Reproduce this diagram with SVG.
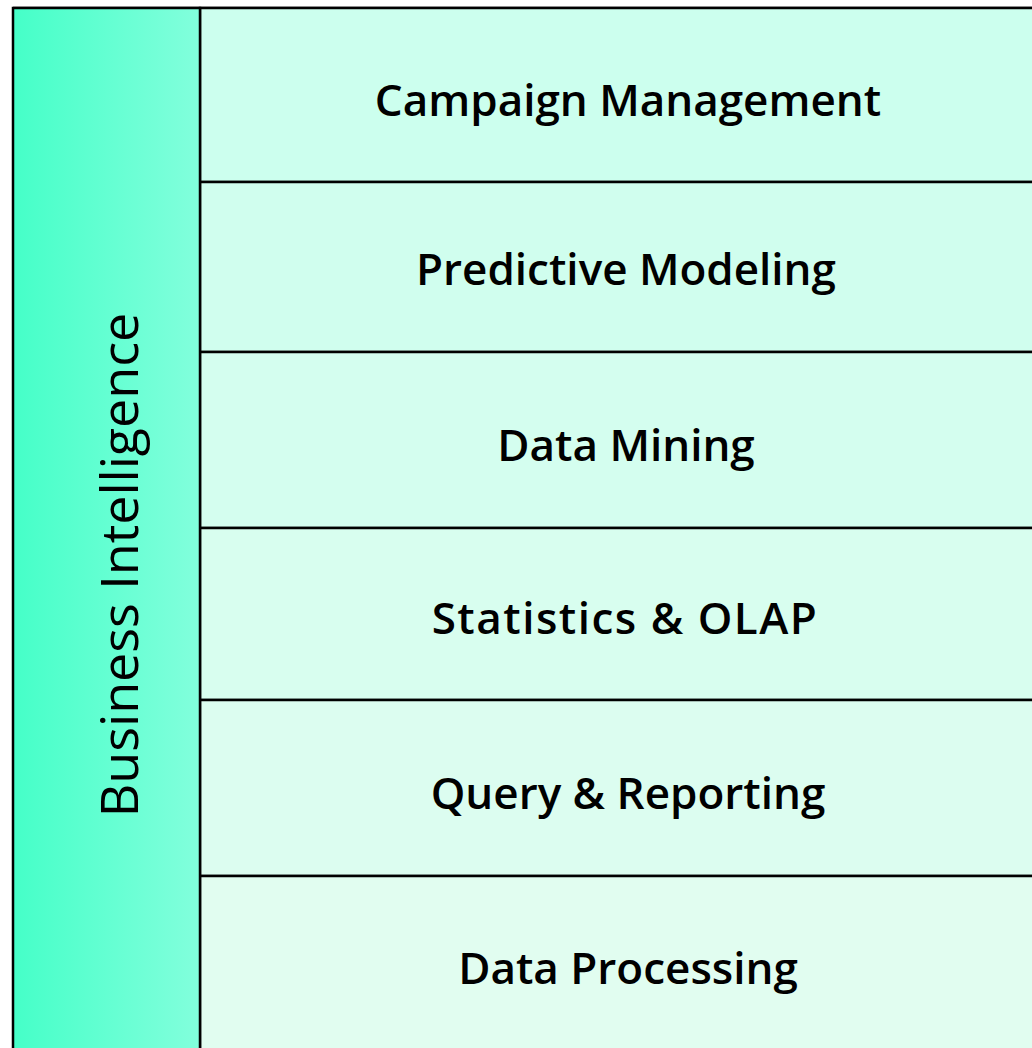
<svg xmlns="http://www.w3.org/2000/svg" width="1032" height="1048" viewBox="0 0 1032 1048">
<defs>
<linearGradient id="lg" x1="0" y1="0" x2="1" y2="0">
<stop offset="0" stop-color="#45FFC8"/>
<stop offset="1" stop-color="#82FFDC"/>
</linearGradient>
<style>
.row{stroke:#000;stroke-width:2.5}
.lbl{font-family:"Open Sans","Noto Sans",sans-serif;font-weight:600;font-size:44px;fill:#000;text-anchor:middle;dominant-baseline:central}
.side{font-family:"Open Sans","Noto Sans",sans-serif;font-weight:400;font-size:52px;fill:#000;text-anchor:middle;dominant-baseline:central}
</style>
</defs>
<rect width="1032" height="1048" fill="#fff"/>
<line x1="13" y1="6.5" x2="1032" y2="6.5" stroke="#bbb" stroke-width="1"/>
<g id="rows">
<g id="campaign"><rect class="row" x="200" y="8" width="840" height="174" fill="#CCFFEE"/><text class="lbl" x="628" y="99">Campaign Management</text></g>
<g id="predictive"><rect class="row" x="200" y="182" width="840" height="170" fill="#D0FEEE"/><text class="lbl" x="626" y="268">Predictive Modeling</text></g>
<g id="mining"><rect class="row" x="200" y="352" width="840" height="176" fill="#D4FEEF"/><text class="lbl" x="626" y="444">Data Mining</text></g>
<g id="stats"><rect class="row" x="200" y="528" width="840" height="172" fill="#D8FEEF"/><text class="lbl" x="625" y="617" letter-spacing="1.5">Statistics &amp; OLAP</text></g>
<g id="query"><rect class="row" x="200" y="700" width="840" height="176" fill="#DCFDF0"/><text class="lbl" x="628" y="792">Query &amp; Reporting</text></g>
<g id="processing"><rect class="row" x="200" y="876" width="840" height="200" fill="#E1FDF0"/><text class="lbl" x="628" y="967">Data Processing</text></g>
</g>
<g id="bi">
<rect x="13" y="8" width="187" height="1060" fill="url(#lg)" stroke="#000" stroke-width="2.5"/>
<text class="side" transform="translate(117,565) rotate(-90)">Business Intelligence</text>
</g>
<g id="connectors"></g>
</svg>
